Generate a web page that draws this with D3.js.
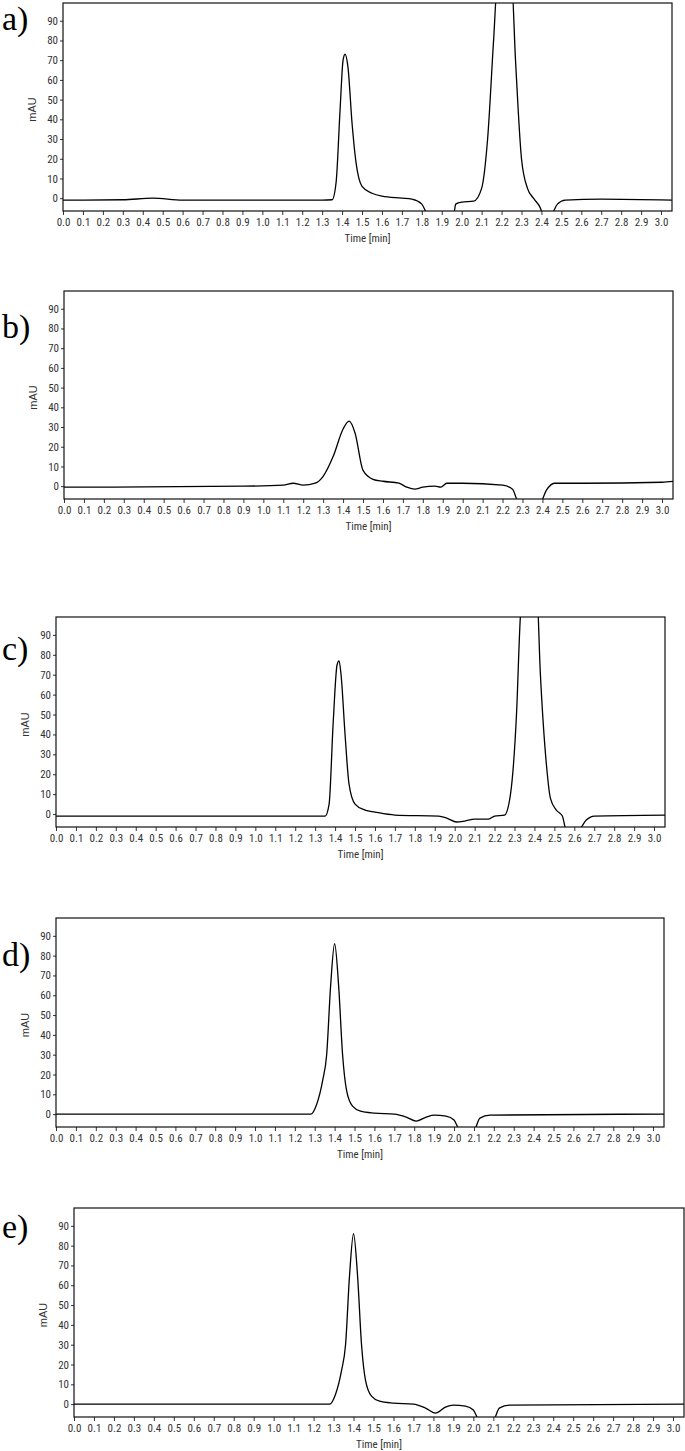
<!DOCTYPE html>
<html>
<head>
<meta charset="utf-8">
<script src="https://cdn.jsdelivr.net/npm/d3@7"></script>
<style>
  body { margin: 0; background: #fff; }
  svg { display: block; }
</style>
</head>
<body>
<svg id="chart" width="685" height="1451"></svg>
<script>
// -------- DATA (time [min], mAU) --------
const traceA = [[0,-1],[0.3,-0.8],[0.45,0],[0.6,-1],[1.3,-1],[1.35,-0.8],[1.37,8],[1.39,45],[1.405,70],[1.415,73],[1.43,66],[1.45,38],[1.47,18],[1.5,6],[1.55,2.5],[1.6,1],[1.7,0],[1.75,-0.5],[1.8,-3],[1.83,-8],[1.96,-8],[1.97,-3],[2.0,-2],[2.06,-1.5],[2.1,5],[2.13,30],[2.16,80],[2.18,110],[2.25,110],[2.27,70],[2.3,20],[2.33,5],[2.36,0],[2.39,-4],[2.41,-8],[2.45,-8],[2.48,-3],[2.52,-1],[2.7,-0.5],[3.06,-1]];
const traceB = [[0,-0.5],[0.9,0],[1.1,0.5],[1.15,1.5],[1.2,0.5],[1.26,1.5],[1.3,5],[1.35,15],[1.4,29],[1.43,33],[1.46,27],[1.5,8],[1.55,3.5],[1.6,2.5],[1.68,1.5],[1.72,-0.5],[1.76,-1.5],[1.8,-0.5],[1.86,0],[1.89,-0.5],[1.92,1.5],[2.0,1.5],[2.2,0.5],[2.25,-1.5],[2.28,-8],[2.39,-8],[2.42,-2],[2.46,1.5],[2.6,1.5],[3.0,2],[3.06,2.5]];
const traceC = [[0,-1],[1.35,-1],[1.37,5],[1.39,45],[1.41,75],[1.42,77],[1.43,70],[1.45,40],[1.47,15],[1.5,5],[1.55,2],[1.6,1],[1.7,-0.5],[1.92,-1],[1.96,-2],[2.01,-4],[2.05,-3.5],[2.1,-2.5],[2.17,-2.5],[2.2,-1],[2.25,-0.5],[2.28,10],[2.31,50],[2.33,100],[2.35,115],[2.41,115],[2.43,70],[2.46,25],[2.48,8],[2.51,2],[2.54,-1],[2.56,-8],[2.62,-8],[2.66,-3],[2.7,-1],[3.06,-0.5]];
const traceD = [[0,0],[1.28,0],[1.31,5],[1.34,17],[1.36,30],[1.38,65],[1.4,86],[1.42,65],[1.44,30],[1.46,12],[1.49,4],[1.53,1.5],[1.6,0.5],[1.7,0],[1.76,-1.5],[1.81,-3.5],[1.86,-1.5],[1.9,-0.5],[1.96,-1],[2.0,-3],[2.03,-8],[2.1,-8],[2.13,-2],[2.18,-0.5],[3.06,0]];
const traceE = [[0,0],[1.28,0],[1.31,5],[1.34,17],[1.36,30],[1.38,65],[1.4,86],[1.42,65],[1.44,30],[1.46,12],[1.49,4],[1.53,1.5],[1.6,0.5],[1.7,0],[1.76,-2],[1.81,-4.5],[1.86,-1.5],[1.9,-0.5],[1.96,-1],[2.0,-3],[2.03,-8],[2.1,-8],[2.13,-2],[2.18,-0.5],[3.06,0]];

const panelLabels = ["a)", "b)", "c)", "d)", "e)"];
const traces = [traceA, traceB, traceC, traceD, traceE];
const xTicks = d3.range(0, 31).map(i => i / 10);
const yTicks = [0, 10, 20, 30, 40, 50, 60, 70, 80, 90];
const yDomain = [-6.5, 99];
const xDomain = [0, 3.055];

// panel boxes: left, right, top, bottom (pixels in page)
const boxes = [
  { l: 63, r: 672, t: 3,    b: 211,  labY: 30 },
  { l: 64, r: 673, t: 291,  b: 499,  labY: 338 },
  { l: 56, r: 665, t: 617,  b: 827,  labY: 660 },
  { l: 56, r: 664, t: 918,  b: 1127, labY: 966 },
  { l: 74, r: 684, t: 1208, b: 1417, labY: 1238 }
];

const svg = d3.select("#chart");
const tickFont = "'Liberation Sans Narrow', 'Arial Narrow', 'Roboto Condensed', sans-serif";

boxes.forEach((bx, i) => {
  const x = d3.scaleLinear().domain(xDomain).range([bx.l, bx.r]);
  const y = d3.scaleLinear().domain(yDomain).range([bx.b, bx.t]);
  const g = svg.append("g");

  g.append("clipPath").attr("id", "clip" + i)
    .append("rect")
    .attr("x", bx.l).attr("y", bx.t)
    .attr("width", bx.r - bx.l).attr("height", bx.b - bx.t);

  // axes
  const xAxis = g.append("g")
    .attr("transform", `translate(0,${bx.b})`)
    .call(d3.axisBottom(x).tickValues(xTicks).tickFormat(d3.format(".1f")).tickSize(4));
  const yAxis = g.append("g")
    .attr("transform", `translate(${bx.l},0)`)
    .call(d3.axisLeft(y).tickValues(yTicks).tickSize(3));

  [xAxis, yAxis].forEach(ax => {
    ax.select(".domain").remove();
    ax.selectAll("line").attr("stroke", "#333");
    ax.selectAll("text")
      .attr("font-family", tickFont)
      .attr("font-size", 11)
      .attr("fill", "#333");
  });
  yAxis.selectAll("text").attr("dx", "1");

  // trace
  const line = d3.line()
    .x(d => x(d[0]))
    .y(d => y(d[1]))
    .curve(d3.curveMonotoneX);

  g.append("path")
    .datum(traces[i])
    .attr("clip-path", `url(#clip${i})`)
    .attr("fill", "none")
    .attr("stroke", "#000")
    .attr("stroke-width", 1.3)
    .attr("d", line);

  // frame
  g.append("rect")
    .attr("x", bx.l).attr("y", bx.t)
    .attr("width", bx.r - bx.l).attr("height", bx.b - bx.t)
    .attr("fill", "none")
    .attr("stroke", "#111")
    .attr("stroke-width", 1.2);

  // axis titles
  g.append("text")
    .attr("x", (bx.l + bx.r) / 2)
    .attr("y", bx.b + 31)
    .attr("text-anchor", "middle")
    .attr("font-family", tickFont)
    .attr("font-size", 11)
    .attr("fill", "#333")
    .text("Time [min]");

  g.append("text")
    .attr("transform", `translate(${bx.l - 27},${(y(40) + y(50)) / 2}) rotate(-90)`)
    .attr("text-anchor", "middle")
    .attr("font-family", "Liberation Sans, Arial, sans-serif")
    .attr("font-size", 11)
    .attr("fill", "#333")
    .text("mAU");

  // panel letter
  g.append("text")
    .attr("x", 2)
    .attr("y", bx.labY)
    .attr("font-family", "'Liberation Serif', 'Times New Roman', serif")
    .attr("font-size", 34)
    .attr("fill", "#000")
    .text(panelLabels[i]);
});
</script>
</body>
</html>
